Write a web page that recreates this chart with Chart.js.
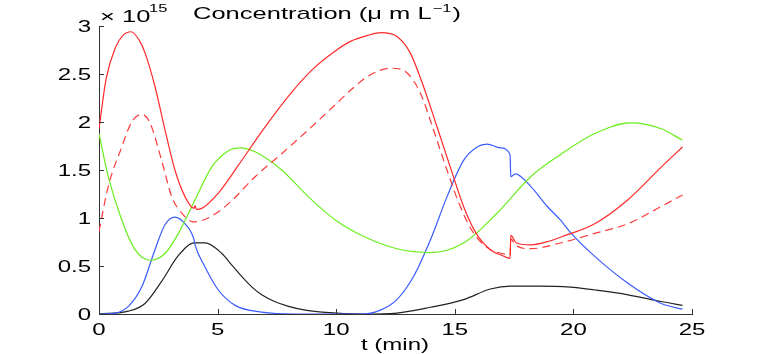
<!DOCTYPE html>
<html>
<head>
<meta charset="utf-8">
<script src="https://cdn.jsdelivr.net/npm/chart.js@4"></script>
<style>
  html, body { margin: 0; padding: 0; background: #fff; }
  #wrap { width: 763px; height: 354px; }
</style>
</head>
<body>
<div id="wrap"><canvas id="conc"></canvas></div>
<script>
// values in units of 1e15 (axis shows "x 10^15")
const xTicks = [0, 5, 10, 15, 20, 25];
const yTicks = [0, 0.5, 1, 1.5, 2, 2.5, 3];
const xTickLabels = ["0", "5", "10", "15", "20", "25"];
const yTickLabels = ["0", "0.5", "1", "1.5", "2", "2.5", "3"];

const redT = [0, 0.3, 0.7, 1.0, 1.35, 1.7, 1.94, 2.36, 2.78, 3.2, 3.63, 4.0, 4.05, 4.1, 4.33, 5.03, 5.88, 6.86, 7.99, 8.97, 9.96, 10.6, 11.3, 11.9, 12.56, 13.12, 13.68, 14.25, 14.81, 15.37, 15.9, 16.5, 17.0, 17.33, 17.36, 17.6, 18.2, 19.0, 19.45, 20.9, 22.3, 23.7, 24.6];
const redY = [1.93, 2.45, 2.78, 2.9, 2.94, 2.85, 2.72, 2.37, 1.92, 1.5, 1.22, 1.10, 1.13, 1.09, 1.10, 1.26, 1.55, 1.90, 2.27, 2.54, 2.74, 2.84, 2.9, 2.93, 2.89, 2.72, 2.37, 1.95, 1.53, 1.12, 0.84, 0.67, 0.61, 0.58, 0.82, 0.74, 0.72, 0.76, 0.80, 0.94, 1.19, 1.53, 1.74];

const redDashT = [0, 0.39, 0.96, 1.38, 1.8, 2.15, 2.64, 3.07, 3.49, 3.98, 4.6, 5.46, 6.58, 7.7, 8.83, 9.96, 10.6, 11.43, 12.3, 12.99, 13.55, 14.1, 14.67, 15.23, 15.8, 16.5, 17.0, 17.33, 17.36, 17.6, 18.2, 19.45, 20.9, 22.3, 23.7, 24.6];
const redDashY = [0.86, 1.33, 1.74, 2.0, 2.08, 1.99, 1.6, 1.22, 1.05, 0.96, 1.0, 1.15, 1.43, 1.67, 1.92, 2.18, 2.33, 2.49, 2.56, 2.51, 2.3, 1.92, 1.5, 1.12, 0.84, 0.67, 0.63, 0.61, 0.78, 0.71, 0.68, 0.74, 0.84, 0.94, 1.12, 1.24];

const greenT = [0, 0.39, 0.96, 1.52, 2.15, 2.78, 3.35, 4.05, 4.75, 5.46, 5.95, 6.58, 7.7, 8.83, 9.96, 11.15, 12.56, 13.97, 15.37, 16.78, 18.2, 19.45, 20.9, 22.4, 23.7, 24.6];
const greenY = [1.88, 1.43, 0.98, 0.67, 0.56, 0.63, 0.84, 1.19, 1.53, 1.70, 1.73, 1.69, 1.5, 1.22, 0.98, 0.81, 0.68, 0.64, 0.74, 1.05, 1.43, 1.66, 1.88, 1.99, 1.93, 1.81];

const blueT = [0, 0.68, 1.24, 1.8, 2.36, 2.78, 3.2, 3.63, 4.0, 4.05, 4.47, 5.03, 5.74, 6.86, 8.27, 11.15, 11.86, 12.56, 13.26, 13.97, 14.67, 15.37, 15.94, 16.36, 16.92, 17.33, 17.36, 17.55, 18.2, 18.9, 19.45, 19.87, 20.9, 22.3, 23.7, 24.6];
const blueY = [0, 0.01, 0.08, 0.28, 0.67, 0.93, 1.01, 0.94, 0.78, 0.72, 0.49, 0.25, 0.09, 0.02, 0, 0, 0.04, 0.15, 0.39, 0.77, 1.22, 1.6, 1.74, 1.77, 1.73, 1.66, 1.43, 1.46, 1.33, 1.12, 0.98, 0.85, 0.6, 0.32, 0.11, 0.05];

const blackT = [0, 1.24, 1.94, 2.64, 3.35, 4.02, 4.47, 5.18, 5.6, 6.02, 6.45, 6.86, 7.4, 7.99, 8.7, 9.4, 11.15, 12.56, 13.97, 15.37, 16.5, 17.35, 18.5, 19.87, 20.9, 22.3, 23.7, 24.6];
const blackY = [0, 0.03, 0.11, 0.34, 0.61, 0.74, 0.74, 0.63, 0.51, 0.39, 0.28, 0.2, 0.13, 0.08, 0.04, 0.02, 0, 0.01, 0.07, 0.15, 0.26, 0.29, 0.29, 0.28, 0.25, 0.2, 0.13, 0.09];

const FONT = "'Liberation Sans', Arial, sans-serif";
const STRETCH = 1.5; // the original export is squeezed wide

function pts(ts, ys) {
  return ts.map((t, i) => ({ x: t, y: ys[i] }));
}

function series(ts, ys, color, dash) {
  return {
    data: pts(ts, ys),
    borderColor: color,
    borderWidth: 1.2,
    borderDash: dash || [],
    pointRadius: 0,
    fill: false,
    cubicInterpolationMode: "monotone",
  };
}

// draws wide text, returns its drawn width
function wideText(c, text, x, y, size, align) {
  c.font = size + "px " + FONT;
  const w = c.measureText(text).width * STRETCH;
  let left = x;
  if (align === "center") left = x - w / 2;
  if (align === "right") left = x - w;
  c.save();
  c.translate(left, y);
  c.scale(STRETCH, 1);
  c.textAlign = "left";
  c.fillText(text, 0, 0);
  c.restore();
  return w;
}

// inward tick marks, tick labels and the MATLAB style texts
const decor = {
  id: "decor",
  afterDraw(chart) {
    const c = chart.ctx;
    const xs = chart.scales.x;
    const ys = chart.scales.y;
    const area = chart.chartArea;
    c.save();
    c.strokeStyle = "#333";
    c.lineWidth = 1;
    c.beginPath();
    xTicks.forEach((v) => {
      const px = Math.round(xs.getPixelForValue(v)) + 0.5;
      c.moveTo(px, area.bottom);
      c.lineTo(px, area.bottom - 5);
    });
    yTicks.forEach((v) => {
      const py = Math.round(ys.getPixelForValue(v)) + 0.5;
      c.moveTo(area.left, py);
      c.lineTo(area.left + 5, py);
    });
    c.stroke();

    c.fillStyle = "#000";
    c.textBaseline = "alphabetic";
    xTicks.forEach((v, i) => {
      wideText(c, xTickLabels[i], xs.getPixelForValue(v), 335, 16, "center");
    });
    yTicks.forEach((v, i) => {
      wideText(c, yTickLabels[i], area.left - 8, ys.getPixelForValue(v) + 6, 16, "right");
    });

    wideText(c, "\u00d7 10", 100, 21.5, 17, "left");
    wideText(c, "15", 149, 11.5, 11, "left");

    let x = 193;
    x += wideText(c, "Concentration (\u03bc m L", x, 18.5, 17, "left");
    x += wideText(c, "\u22121", x + 1, 12, 11, "left") + 2;
    wideText(c, ")", x, 18.5, 17, "left");

    wideText(c, "t (min)", 395, 350, 16, "center");
    c.restore();
  },
};

new Chart(document.getElementById("conc"), {
  type: "line",
  data: {
    datasets: [
      series(redT, redY, "#ff2a2a"),
      series(redDashT, redDashY, "#ff3a3a", [8, 5]),
      series(greenT, greenY, "#6aee1e"),
      series(blueT, blueY, "#3a5cff"),
      series(blackT, blackY, "#222222"),
    ],
  },
  options: {
    responsive: true,
    maintainAspectRatio: false,
    animation: false,
    layout: { padding: { top: 26, right: 71, left: 0, bottom: 0 } },
    plugins: {
      legend: { display: false },
      tooltip: { enabled: false },
    },
    scales: {
      x: {
        type: "linear",
        min: 0,
        max: 25,
        afterBuildTicks(scale) {
          scale.ticks = xTicks.map((v) => ({ value: v }));
        },
        afterFit(scale) {
          scale.height = 40;
        },
        grid: { drawOnChartArea: false, drawTicks: false },
        border: { color: "#333", width: 1 },
        ticks: { display: false },
      },
      y: {
        type: "linear",
        min: 0,
        max: 3,
        afterBuildTicks(scale) {
          scale.ticks = yTicks.map((v) => ({ value: v }));
        },
        afterFit(scale) {
          scale.width = 99;
        },
        grid: { drawOnChartArea: false, drawTicks: false },
        border: { color: "#333", width: 1 },
        ticks: { display: false },
      },
    },
  },
  plugins: [decor],
});
</script>
</body>
</html>
